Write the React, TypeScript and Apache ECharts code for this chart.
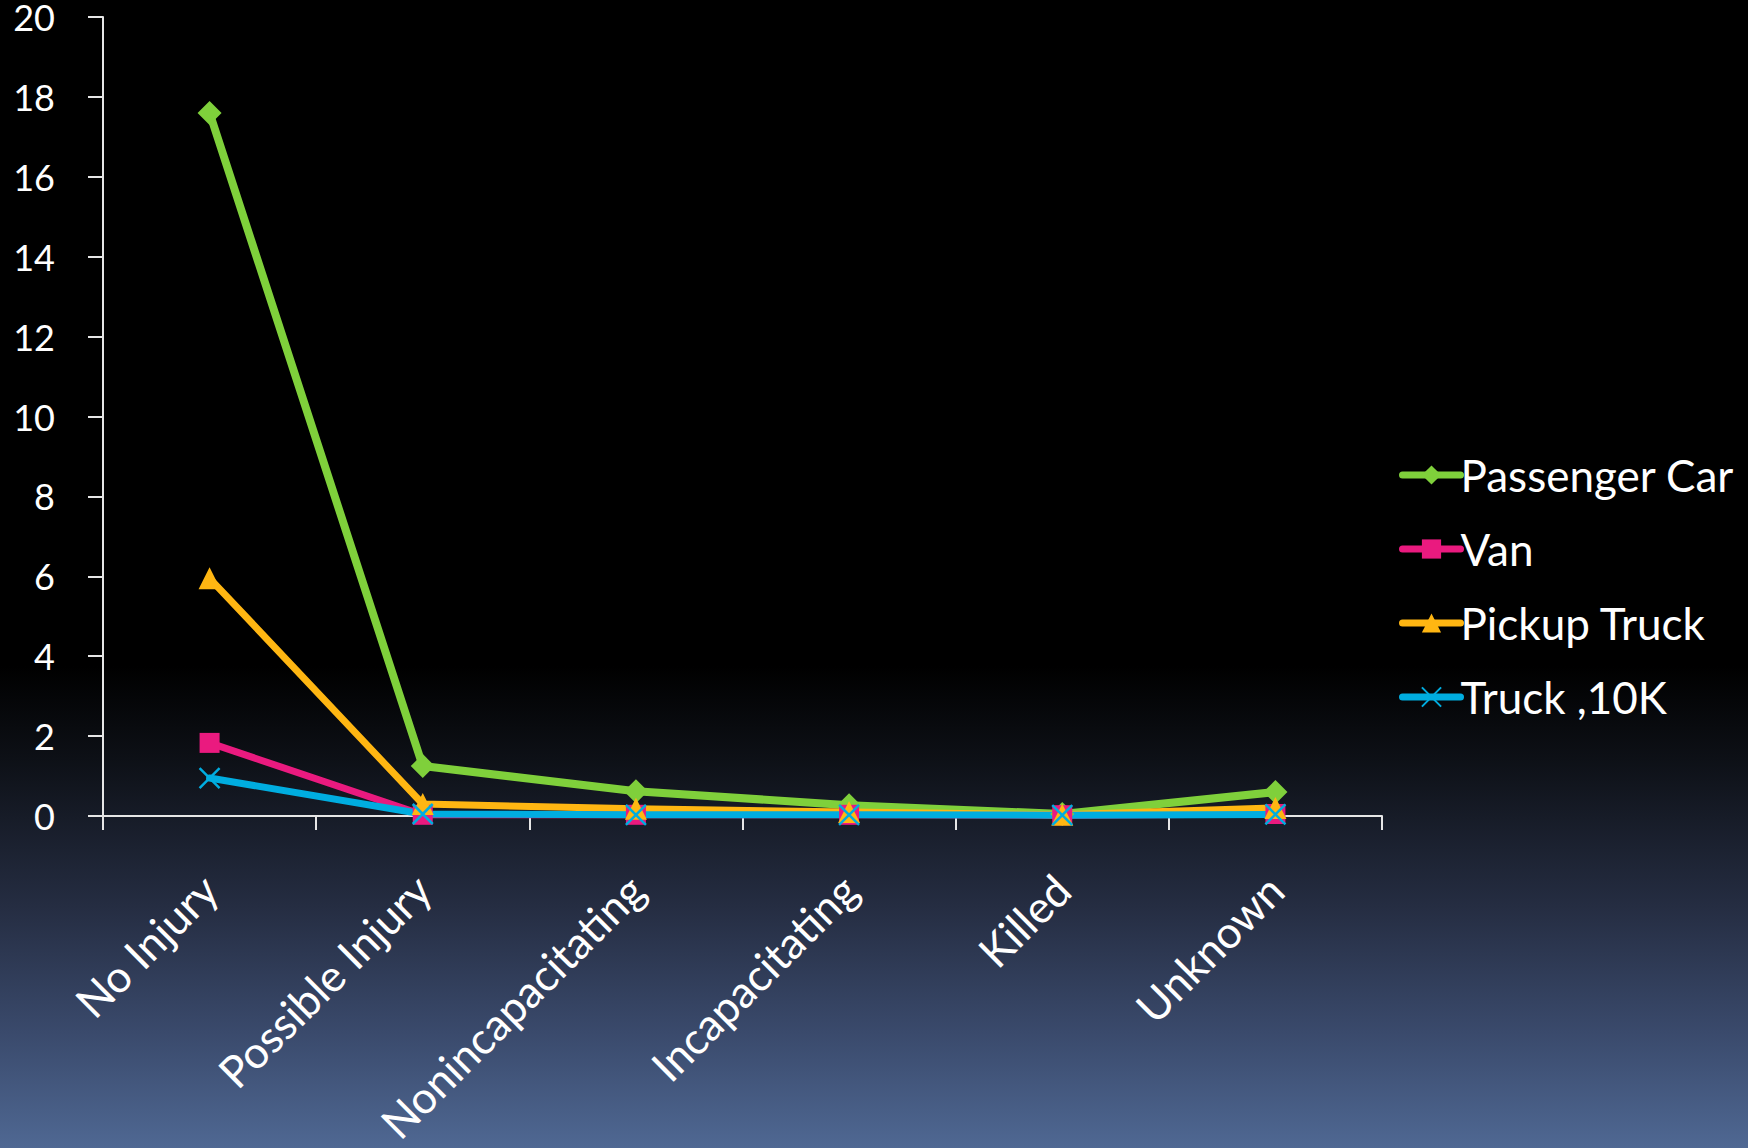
import React, { useEffect, useRef } from "react";
import * as echarts from "echarts";

// Injury categories along the x axis
const categories = [
  "No Injury",
  "Possible Injury",
  "Nonincapacitating",
  "Incapacitating",
  "Killed",
  "Unknown",
];

// Values per vehicle type
const passengerCar = [17.6, 1.25, 0.62, 0.27, 0.05, 0.6];
const van = [1.83, 0.03, 0.03, 0.03, 0.02, 0.05];
const pickupTruck = [5.95, 0.3, 0.18, 0.1, 0.03, 0.2];
const truck10k = [0.95, 0.05, 0.03, 0.03, 0.02, 0.04];

const seriesNames = ["Passenger Car", "Van", "Pickup Truck", "Truck ,10K"];

const W = 1748;
const H = 1148;
const FONT = "Lato, 'Open Sans', sans-serif";

const CROSS = "path://M0,0L10,10M10,0L0,10";

export default function App() {
  const ref = useRef<HTMLDivElement>(null);

  useEffect(() => {
    document.body.style.margin = "0";
    const chart = echarts.init(ref.current!, null, { renderer: "svg" });

    const mk = (
      name: string,
      data: number[],
      color: string,
      symbol: string,
      symbolSize: number,
      width: number,
      cross = false
    ) => ({
      name,
      type: "line",
      data,
      symbol,
      symbolSize,
      showSymbol: true,
      lineStyle: { color, width, cap: "round", join: "round" },
      itemStyle: cross
        ? { color, borderColor: color, borderWidth: 2.5 }
        : { color, borderWidth: 0 },
      emphasis: { disabled: true },
      z: 3,
    });

    chart.setOption({
      animation: false,
      backgroundColor: "transparent",
      grid: {
        left: 103,
        right: 366,
        top: 17,
        bottom: 332,
        containLabel: false,
        outerBoundsMode: "none",
      },
      legend: {
        orient: "vertical",
        left: 1394,
        top: 448,
        itemWidth: 58,
        itemHeight: 24,
        itemGap: 30,
        data: seriesNames,
        lineStyle: { width: 7, cap: "round" },
        textStyle: { color: "#ffffff", fontSize: 44, fontFamily: FONT, padding: [0, 0, 0, -5] },
        selectedMode: false,
      },
      xAxis: {
        type: "category",
        data: categories,
        boundaryGap: true,
        axisLine: { lineStyle: { color: "#e6e6e6", width: 2 } },
        axisTick: { show: true, length: 14, lineStyle: { color: "#e6e6e6", width: 2 } },
        axisLabel: {
          rotate: 45,
          interval: 0,
          margin: 66,
          color: "#ffffff",
          fontSize: 44,
          fontFamily: FONT,
        },
        splitLine: { show: false },
      },
      yAxis: {
        type: "value",
        min: 0,
        max: 20,
        interval: 2,
        axisLine: { show: true, lineStyle: { color: "#e6e6e6", width: 2 } },
        axisTick: { show: true, length: 15, lineStyle: { color: "#e6e6e6", width: 2 } },
        axisLabel: {
          margin: 48,
          color: "#ffffff",
          fontSize: 36,
          lineHeight: 30,
          fontFamily: FONT,
        },
        splitLine: { show: false },
      },
      series: [
        mk(seriesNames[0], passengerCar, "#7fd03b", "diamond", 24, 8),
        mk(seriesNames[1], van, "#ea1a7f", "rect", 20, 7),
        mk(seriesNames[2], pickupTruck, "#ffb612", "triangle", 22, 7),
        mk(seriesNames[3], truck10k, "#00ade0", CROSS, 20, 7, true),
      ],
    });

    return () => chart.dispose();
  }, []);

  return (
    <div
      style={{
        position: "absolute",
        left: 0,
        top: 0,
        width: W,
        height: H,
        background:
          "linear-gradient(to bottom, #000000 0%, #000000 58%, #0d1016 66%, #252d42 79%, #3a4a6c 90%, #4f6893 100%)",
      }}
    >
      <div ref={ref} style={{ width: W, height: H }} />
    </div>
  );
}
